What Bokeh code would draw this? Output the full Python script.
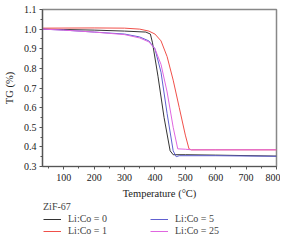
from bokeh.plotting import figure
from bokeh.layouts import column
from bokeh.models import Legend, LegendItem, FixedTicker, Range1d, NumeralTickFormatter
from bokeh.embed import file_html
from bokeh.resources import INLINE

# Li:Co = 0 (black)
t0 = [30, 100, 200, 300, 370, 385, 392, 410, 430, 450, 460, 500, 600, 800]
w0 = [1.0, 0.998, 0.995, 0.99, 0.985, 0.975, 0.93, 0.76, 0.55, 0.38, 0.36, 0.36, 0.358, 0.353]
# Li:Co = 1 (red)
t1 = [30, 200, 300, 350, 380, 400, 420, 440, 460, 480, 500, 512, 520, 600, 800]
w1 = [1.005, 1.006, 1.005, 1.0, 0.99, 0.975, 0.94, 0.86, 0.74, 0.6, 0.46, 0.39, 0.385, 0.385, 0.385]
# Li:Co = 5 (blue)
t5 = [30, 100, 200, 300, 350, 380, 400, 420, 440, 460, 470, 480, 600, 800]
w5 = [1.0, 0.995, 0.985, 0.975, 0.96, 0.94, 0.9, 0.78, 0.57, 0.38, 0.35, 0.355, 0.355, 0.352]
# Li:Co = 25 (magenta)
t25 = [30, 100, 200, 300, 350, 380, 400, 420, 440, 460, 475, 500, 520, 800]
w25 = [1.0, 0.995, 0.985, 0.972, 0.955, 0.935, 0.9, 0.82, 0.68, 0.5, 0.39, 0.388, 0.385, 0.385]

series_t = [t0, t1, t5, t25]
series_w = [w0, w1, w5, w25]
labels = ["Li:Co = 0", "Li:Co = 1", "Li:Co = 5", "Li:Co = 25"]
colors = ["#333333", "#f0504a", "#6060d0", "#e066e0"]
x_ticks = [100, 200, 300, 400, 500, 600, 700, 800]
y_ticks = [0.3, 0.4, 0.5, 0.6, 0.7, 0.8, 0.9, 1.0, 1.1]

FONT = "Liberation Serif"

p = figure(width=280, height=201, output_backend="svg", toolbar_location=None,
           x_range=Range1d(30, 800), y_range=Range1d(0.3, 1.1),
           min_border_left=36, min_border_right=4, min_border_top=9, min_border_bottom=35)
p.outline_line_color = "#888888"
p.outline_line_width = 1.5
p.grid.visible = False

for t, w, c in zip(series_t, series_w, colors):
    p.line(t, w, line_color=c, line_width=1.0)

p.xaxis.ticker = FixedTicker(ticks=x_ticks, minor_ticks=[50 + 100 * i for i in range(8)])
p.yaxis.ticker = FixedTicker(ticks=y_ticks, minor_ticks=[0.35 + 0.1 * i for i in range(8)])
p.yaxis.formatter = NumeralTickFormatter(format="0.0")
for ax in (p.xaxis, p.yaxis):
    ax.axis_line_color = "#555555"
    ax.axis_line_width = 1.2
    ax.major_tick_line_color = "#555555"
    ax.minor_tick_line_color = "#555555"
    ax.major_tick_in = 0
    ax.major_tick_out = 3
    ax.minor_tick_in = 0
    ax.minor_tick_out = 2
    ax.major_label_text_font = FONT
    ax.major_label_text_font_size = "10px"
    ax.major_label_text_color = "#222222"
    ax.axis_label_text_font = FONT
    ax.axis_label_text_font_size = "10.5px"
    ax.axis_label_text_font_style = "normal"
    ax.axis_label_text_color = "#222222"
p.xaxis.axis_label = "Temperature (°C)"
p.yaxis.axis_label = "TG (%)"
p.xaxis.major_label_standoff = 4
p.yaxis.major_label_standoff = 3
p.xaxis.axis_label_standoff = 4
p.yaxis.axis_label_standoff = 6

# legend panel (proxy lines lie outside this panel's ranges, only their legend glyphs show)
p2 = figure(width=280, height=37, output_backend="svg", toolbar_location=None,
            x_axis_type=None, y_axis_type=None, min_border=0,
            x_range=Range1d(0, 1), y_range=Range1d(0, 0.1))
p2.outline_line_color = None
p2.grid.visible = False
proxies = [p2.line(t, w, line_color=c, line_width=1.0)
           for t, w, c in zip(series_t, series_w, colors)]
items = [LegendItem(label=l, renderers=[r]) for l, r in zip(labels, proxies)]
legend = Legend(items=items, title="ZiF-67", ncols=2,
                label_text_font=FONT, label_text_font_size="10px",
                title_text_font=FONT, title_text_font_size="10px",
                title_text_font_style="normal", title_standoff=1,
                glyph_width=18, glyph_height=10, label_height=10,
                label_standoff=7, spacing=1, padding=0, margin=0,
                border_line_color=None, background_fill_alpha=0,
                label_width=81, location=(1, 2))
p2.add_layout(legend)

layout = column(p, p2, spacing=0)
open("out.html", "w").write(file_html(layout, INLINE))
